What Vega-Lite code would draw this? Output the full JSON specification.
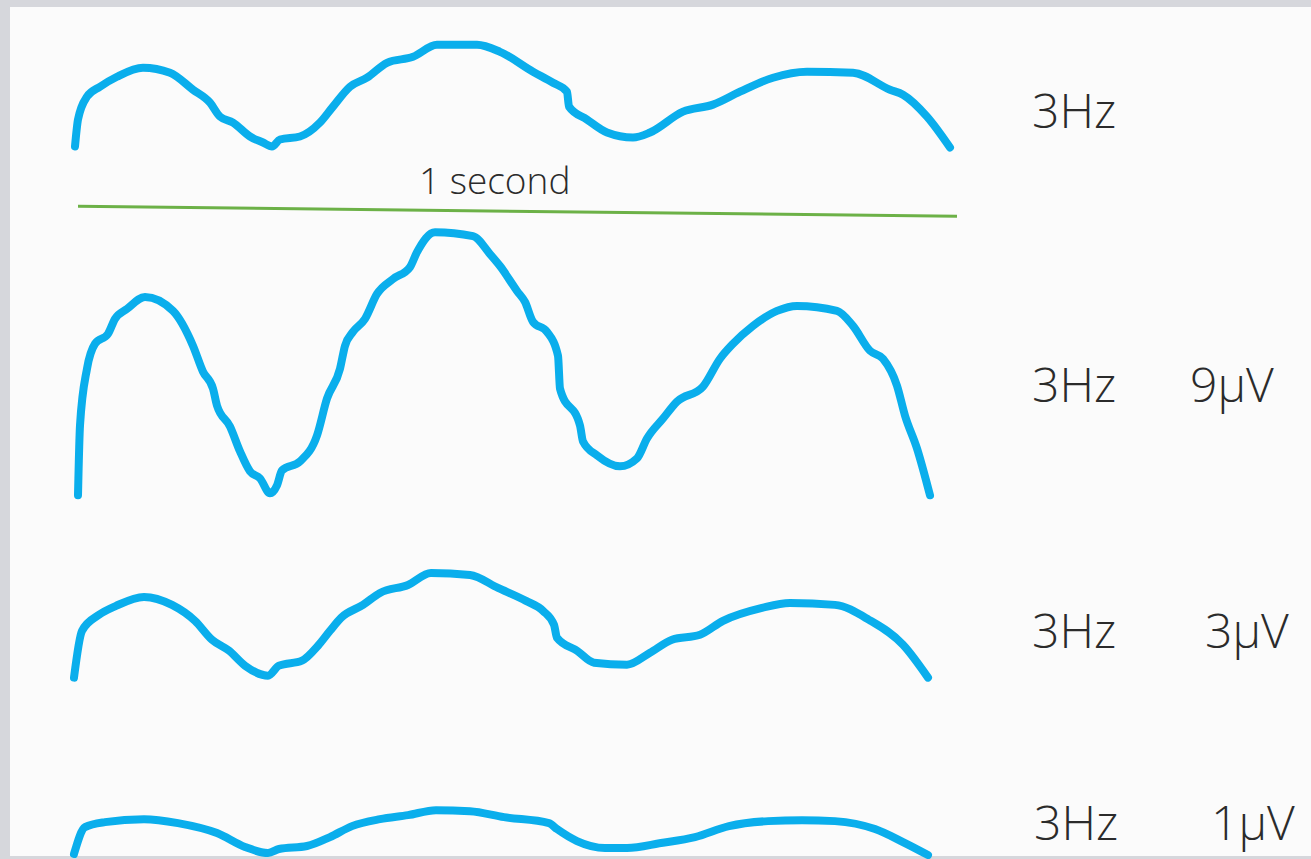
{
  "$schema": "https://vega.github.io/schema/vega-lite/v6.json",
  "width": 1311,
  "height": 859,
  "autosize": {"type": "fit", "contains": "padding"},
  "padding": 0,
  "background": "#d6d7dc",
  "config": {"view": {"stroke": null}},
  "datasets": {
    "panel": [{"x0": 10, "x1": 1311, "y0": 7, "y1": 859}],
    "scale": [{"x": 78, "y": 207, "x2": 957, "y2": 217}],
    "caption": [{"x": 419, "y": 195, "label": "1 second"}],
    "labels": [
      {"x": 1032, "y": 128, "label": "3Hz"},
      {"x": 1032, "y": 403, "label": "3Hz"},
      {"x": 1190, "y": 403, "label": "9μV"},
      {"x": 1032, "y": 650, "label": "3Hz"},
      {"x": 1205, "y": 650, "label": "3μV"},
      {"x": 1034, "y": 843, "label": "3Hz"},
      {"x": 1211, "y": 843, "label": "1μV"}
    ],
    "waves": [
      {"s": "w1", "x": 75, "y": 147}, {"s": "w1", "x": 78, "y": 120}, {"s": "w1", "x": 87, "y": 97}, {"s": "w1", "x": 100, "y": 87}, {"s": "w1", "x": 117, "y": 77}, {"s": "w1", "x": 143, "y": 68}, {"s": "w1", "x": 170, "y": 73}, {"s": "w1", "x": 193, "y": 90}, {"s": "w1", "x": 210, "y": 103}, {"s": "w1", "x": 220, "y": 117}, {"s": "w1", "x": 233, "y": 123}, {"s": "w1", "x": 250, "y": 137}, {"s": "w1", "x": 263, "y": 143}, {"s": "w1", "x": 272, "y": 147}, {"s": "w1", "x": 280, "y": 140}, {"s": "w1", "x": 300, "y": 137}, {"s": "w1", "x": 320, "y": 123}, {"s": "w1", "x": 333, "y": 107}, {"s": "w1", "x": 350, "y": 87}, {"s": "w1", "x": 367, "y": 78}, {"s": "w1", "x": 387, "y": 63}, {"s": "w1", "x": 413, "y": 57}, {"s": "w1", "x": 437, "y": 45}, {"s": "w1", "x": 477, "y": 45}, {"s": "w1", "x": 500, "y": 52}, {"s": "w1", "x": 533, "y": 72}, {"s": "w1", "x": 553, "y": 83}, {"s": "w1", "x": 567, "y": 92}, {"s": "w1", "x": 569, "y": 107}, {"s": "w1", "x": 587, "y": 120}, {"s": "w1", "x": 607, "y": 133}, {"s": "w1", "x": 633, "y": 138}, {"s": "w1", "x": 650, "y": 133}, {"s": "w1", "x": 683, "y": 112}, {"s": "w1", "x": 713, "y": 105}, {"s": "w1", "x": 740, "y": 92}, {"s": "w1", "x": 773, "y": 78}, {"s": "w1", "x": 807, "y": 72}, {"s": "w1", "x": 853, "y": 73}, {"s": "w1", "x": 890, "y": 90}, {"s": "w1", "x": 903, "y": 95}, {"s": "w1", "x": 927, "y": 117}, {"s": "w1", "x": 950, "y": 148},

      {"s": "w2", "x": 78, "y": 497}, {"s": "w2", "x": 80, "y": 427}, {"s": "w2", "x": 87, "y": 370}, {"s": "w2", "x": 95, "y": 345}, {"s": "w2", "x": 108, "y": 335}, {"s": "w2", "x": 115, "y": 320}, {"s": "w2", "x": 127, "y": 310}, {"s": "w2", "x": 145, "y": 298}, {"s": "w2", "x": 173, "y": 312}, {"s": "w2", "x": 193, "y": 347}, {"s": "w2", "x": 203, "y": 373}, {"s": "w2", "x": 213, "y": 390}, {"s": "w2", "x": 217, "y": 407}, {"s": "w2", "x": 230, "y": 428}, {"s": "w2", "x": 240, "y": 453}, {"s": "w2", "x": 250, "y": 473}, {"s": "w2", "x": 260, "y": 480}, {"s": "w2", "x": 270, "y": 495}, {"s": "w2", "x": 277, "y": 487}, {"s": "w2", "x": 282, "y": 472}, {"s": "w2", "x": 300, "y": 463}, {"s": "w2", "x": 317, "y": 437}, {"s": "w2", "x": 327, "y": 400}, {"s": "w2", "x": 340, "y": 370}, {"s": "w2", "x": 345, "y": 347}, {"s": "w2", "x": 353, "y": 333}, {"s": "w2", "x": 365, "y": 320}, {"s": "w2", "x": 377, "y": 295}, {"s": "w2", "x": 393, "y": 280}, {"s": "w2", "x": 410, "y": 268}, {"s": "w2", "x": 417, "y": 253}, {"s": "w2", "x": 435, "y": 233}, {"s": "w2", "x": 473, "y": 237}, {"s": "w2", "x": 490, "y": 255}, {"s": "w2", "x": 500, "y": 267}, {"s": "w2", "x": 517, "y": 292}, {"s": "w2", "x": 525, "y": 303}, {"s": "w2", "x": 533, "y": 323}, {"s": "w2", "x": 547, "y": 333}, {"s": "w2", "x": 558, "y": 357}, {"s": "w2", "x": 560, "y": 390}, {"s": "w2", "x": 580, "y": 427}, {"s": "w2", "x": 583, "y": 443}, {"s": "w2", "x": 597, "y": 457}, {"s": "w2", "x": 620, "y": 468}, {"s": "w2", "x": 637, "y": 460}, {"s": "w2", "x": 647, "y": 440}, {"s": "w2", "x": 663, "y": 420}, {"s": "w2", "x": 677, "y": 403}, {"s": "w2", "x": 703, "y": 388}, {"s": "w2", "x": 720, "y": 360}, {"s": "w2", "x": 733, "y": 345}, {"s": "w2", "x": 753, "y": 327}, {"s": "w2", "x": 777, "y": 312}, {"s": "w2", "x": 797, "y": 307}, {"s": "w2", "x": 837, "y": 312}, {"s": "w2", "x": 853, "y": 327}, {"s": "w2", "x": 870, "y": 352}, {"s": "w2", "x": 883, "y": 360}, {"s": "w2", "x": 897, "y": 387}, {"s": "w2", "x": 905, "y": 417}, {"s": "w2", "x": 917, "y": 450}, {"s": "w2", "x": 930, "y": 497},

      {"s": "w3", "x": 74, "y": 680}, {"s": "w3", "x": 82, "y": 633}, {"s": "w3", "x": 99, "y": 617}, {"s": "w3", "x": 116, "y": 608}, {"s": "w3", "x": 144, "y": 599}, {"s": "w3", "x": 172, "y": 607}, {"s": "w3", "x": 195, "y": 623}, {"s": "w3", "x": 212, "y": 642}, {"s": "w3", "x": 229, "y": 653}, {"s": "w3", "x": 245, "y": 668}, {"s": "w3", "x": 268, "y": 678}, {"s": "w3", "x": 279, "y": 668}, {"s": "w3", "x": 302, "y": 663}, {"s": "w3", "x": 318, "y": 648}, {"s": "w3", "x": 330, "y": 633}, {"s": "w3", "x": 341, "y": 620}, {"s": "w3", "x": 363, "y": 607}, {"s": "w3", "x": 380, "y": 595}, {"s": "w3", "x": 408, "y": 587}, {"s": "w3", "x": 431, "y": 575}, {"s": "w3", "x": 470, "y": 577}, {"s": "w3", "x": 498, "y": 590}, {"s": "w3", "x": 526, "y": 603}, {"s": "w3", "x": 543, "y": 613}, {"s": "w3", "x": 554, "y": 627}, {"s": "w3", "x": 557, "y": 640}, {"s": "w3", "x": 577, "y": 653}, {"s": "w3", "x": 594, "y": 665}, {"s": "w3", "x": 627, "y": 667}, {"s": "w3", "x": 650, "y": 655}, {"s": "w3", "x": 672, "y": 642}, {"s": "w3", "x": 700, "y": 637}, {"s": "w3", "x": 723, "y": 623}, {"s": "w3", "x": 762, "y": 610}, {"s": "w3", "x": 790, "y": 605}, {"s": "w3", "x": 835, "y": 607}, {"s": "w3", "x": 869, "y": 622}, {"s": "w3", "x": 903, "y": 647}, {"s": "w3", "x": 928, "y": 680},

      {"s": "w4", "x": 74, "y": 857}, {"s": "w4", "x": 85, "y": 830}, {"s": "w4", "x": 105, "y": 825}, {"s": "w4", "x": 144, "y": 822}, {"s": "w4", "x": 178, "y": 826}, {"s": "w4", "x": 217, "y": 836}, {"s": "w4", "x": 245, "y": 850}, {"s": "w4", "x": 268, "y": 856}, {"s": "w4", "x": 279, "y": 852}, {"s": "w4", "x": 307, "y": 849}, {"s": "w4", "x": 330, "y": 840}, {"s": "w4", "x": 352, "y": 829}, {"s": "w4", "x": 380, "y": 822}, {"s": "w4", "x": 408, "y": 818}, {"s": "w4", "x": 436, "y": 813}, {"s": "w4", "x": 470, "y": 814}, {"s": "w4", "x": 504, "y": 820}, {"s": "w4", "x": 549, "y": 826}, {"s": "w4", "x": 557, "y": 832}, {"s": "w4", "x": 577, "y": 844}, {"s": "w4", "x": 605, "y": 851}, {"s": "w4", "x": 627, "y": 851}, {"s": "w4", "x": 661, "y": 846}, {"s": "w4", "x": 695, "y": 840}, {"s": "w4", "x": 729, "y": 829}, {"s": "w4", "x": 768, "y": 824}, {"s": "w4", "x": 802, "y": 823}, {"s": "w4", "x": 835, "y": 824}, {"s": "w4", "x": 875, "y": 832}, {"s": "w4", "x": 903, "y": 845}, {"s": "w4", "x": 928, "y": 858}
    ]
  },
  "layer": [
    {
      "data": {"name": "panel"},
      "mark": {"type": "rect", "color": "#fbfbfb"},
      "encoding": {
        "x": {"field": "x0", "type": "quantitative", "scale": {"domain": [0, 1311], "nice": false, "zero": false}, "axis": null},
        "x2": {"field": "x1"},
        "y": {"field": "y0", "type": "quantitative", "scale": {"domain": [0, 859], "nice": false, "zero": false, "reverse": true}, "axis": null},
        "y2": {"field": "y1"}
      }
    },
    {
      "data": {"name": "scale"},
      "mark": {"type": "rule", "color": "#6cb147", "strokeWidth": 3},
      "encoding": {
        "x": {"field": "x", "type": "quantitative"},
        "x2": {"field": "x2"},
        "y": {"field": "y", "type": "quantitative"},
        "y2": {"field": "y2"}
      }
    },
    {
      "data": {"name": "waves"},
      "mark": {"type": "line", "color": "#0aaeec", "strokeWidth": 8, "strokeCap": "round", "strokeJoin": "round", "interpolate": "monotone"},
      "encoding": {
        "x": {"field": "x", "type": "quantitative"},
        "y": {"field": "y", "type": "quantitative"},
        "detail": {"field": "s", "type": "nominal"}
      }
    },
    {
      "data": {"name": "caption"},
      "mark": {"type": "text", "align": "left", "baseline": "alphabetic", "font": "Open Sans", "fontSize": 37, "fontWeight": 300, "color": "#2b2b2b"},
      "encoding": {
        "x": {"field": "x", "type": "quantitative"},
        "y": {"field": "y", "type": "quantitative"},
        "text": {"field": "label"}
      }
    },
    {
      "data": {"name": "labels"},
      "mark": {"type": "text", "align": "left", "baseline": "alphabetic", "font": "Open Sans", "fontSize": 48, "fontWeight": 300, "color": "#2b2b2b"},
      "encoding": {
        "x": {"field": "x", "type": "quantitative"},
        "y": {"field": "y", "type": "quantitative"},
        "text": {"field": "label"}
      }
    }
  ]
}
